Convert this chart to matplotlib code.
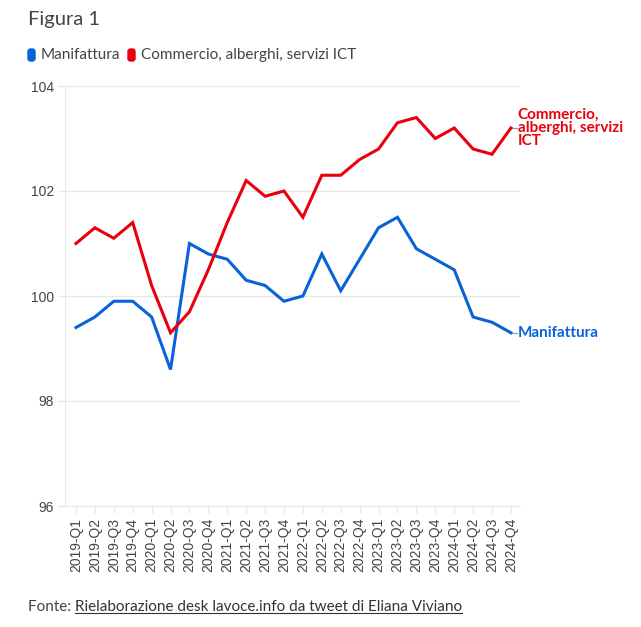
import matplotlib.pyplot as plt
from matplotlib.patches import FancyBboxPatch

quarters = [f"{y}-Q{q}" for y in range(2019, 2025) for q in range(1, 5)]

manifattura = [99.4, 99.6, 99.9, 99.9, 99.6, 98.6, 101.0, 100.8,
               100.7, 100.3, 100.2, 99.9, 100.0, 100.8, 100.1, 100.7,
               101.3, 101.5, 100.9, 100.7, 100.5, 99.6, 99.5, 99.3]
commercio = [101.0, 101.3, 101.1, 101.4, 100.2, 99.3, 99.7, 100.5,
             101.4, 102.2, 101.9, 102.0, 101.5, 102.3, 102.3, 102.6,
             102.8, 103.3, 103.4, 103.0, 103.2, 102.8, 102.7, 103.2]

y_ticks = [96, 98, 100, 102, 104]

BLUE = "#0a62d8"
RED = "#e8000d"
GRID = "#e8e8e8"
TXT = "#444444"

fig = plt.figure(figsize=(6.41, 6.27), dpi=100)
ax = fig.add_axes([65 / 641, 121 / 627, 455 / 641, 420 / 627])

x = list(range(len(quarters)))
ax.plot(x, manifattura, color=BLUE, lw=2.2, solid_joinstyle="miter", zorder=3)
ax.plot(x, commercio, color=RED, lw=2.2, solid_joinstyle="miter", zorder=3)

ax.set_xlim(-0.58, 23.48)
ax.set_ylim(96, 104)
ax.set_yticks(y_ticks)
ax.set_yticklabels([str(v) for v in y_ticks], fontsize=10,
                   family="Liberation Sans", color=TXT)
ax.set_xticks(x)
ax.set_xticklabels(quarters, rotation=90, fontsize=10,
                   family="Liberation Sans", color=TXT)
ax.tick_params(axis="both", length=5, color=GRID, width=1)
ax.tick_params(axis="y", pad=3)
ax.grid(axis="y", color=GRID, lw=1)
for s in ["top", "right"]:
    ax.spines[s].set_visible(False)
ax.spines["left"].set_color(GRID)
ax.spines["bottom"].set_color(GRID)
ax.set_axisbelow(True)

# end labels with small connectors
for vals in (commercio, manifattura):
    ax.plot([23.0, 23.3], [vals[-1], vals[-1]], color="#999999", lw=0.8,
            clip_on=False, zorder=2)
ax.text(23.35, commercio[-1], "Commercio,\nalberghi, servizi\nICT",
        color=RED, fontsize=11, fontweight="bold", family="Lato",
        va="center", ha="left", linespacing=0.95, clip_on=False)
ax.text(23.35, manifattura[-1], "Manifattura", color=BLUE, fontsize=11,
        fontweight="bold", family="Lato", va="center", ha="left",
        clip_on=False)

# title and legend
fig.text(28 / 641, 1 - 20 / 627, "Figura 1", fontsize=14.5, color=TXT,
         family="Lato", va="center")
for px, col, lab in [(28, BLUE, "Manifattura"),
                     (128, RED, "Commercio, alberghi, servizi ICT")]:
    fig.patches.append(FancyBboxPatch(
        (px / 641, 1 - 61 / 627), 7 / 641, 12 / 627,
        boxstyle="round,pad=0,rounding_size=0.004",
        transform=fig.transFigure, color=col))
    fig.text((px + 13) / 641, 1 - 55 / 627, lab, fontsize=11, color=TXT,
             family="Lato", va="center")

fonte = fig.text(28 / 641, 1 - 607 / 627, "Fonte: ", fontsize=11, color=TXT,
                 family="Lato", va="center")
fig.canvas.draw()
bb = fonte.get_window_extent()
link = fig.text(bb.x1 / 641, 1 - 607 / 627,
                "Rielaborazione desk lavoce.info da tweet di Eliana Viviano",
                fontsize=11, color="#333333", family="Lato", va="center")
bb2 = link.get_window_extent()
fig.add_artist(plt.Line2D([bb2.x0 / 641, bb2.x1 / 641],
                          [(bb2.y0 + 1) / 627, (bb2.y0 + 1) / 627],
                          color="#333333", lw=0.8, transform=fig.transFigure))

fig.savefig("out.png", dpi=100)
